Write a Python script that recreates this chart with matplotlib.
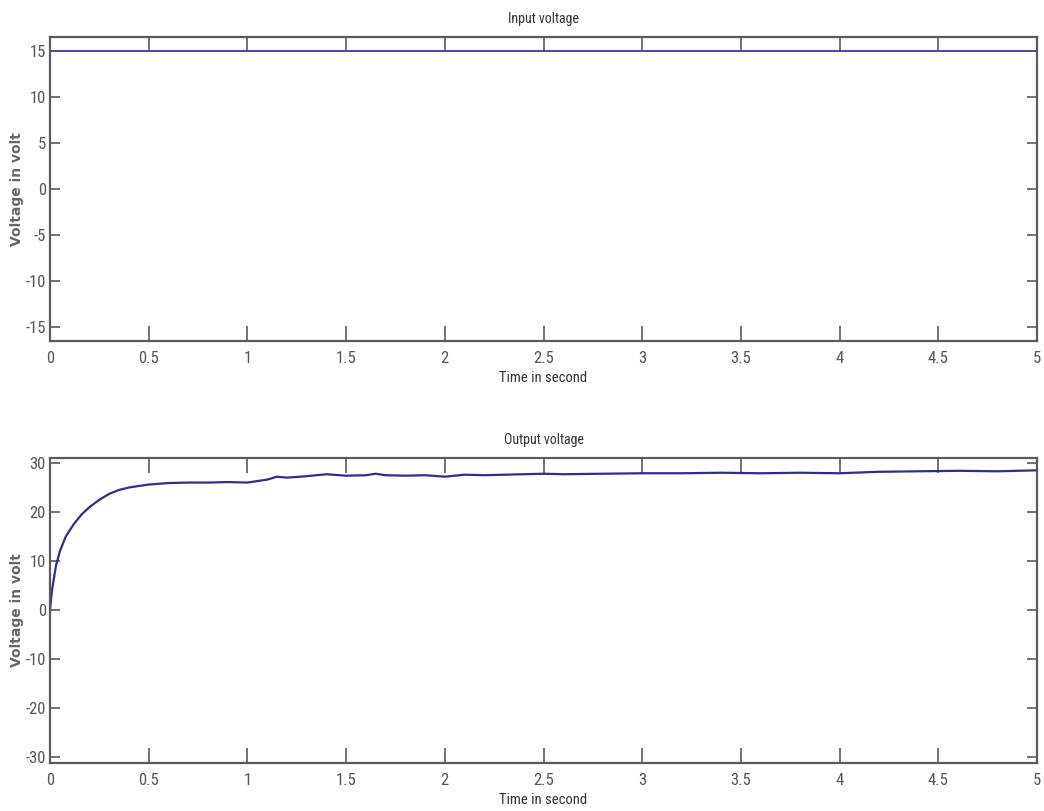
import numpy as np
import matplotlib.pyplot as plt
from matplotlib import font_manager

# input signal: constant 15 V
t_in = [0, 5]
v_in = [15, 15]

# output voltage
t_out = [0, 0.01, 0.03, 0.05, 0.08, 0.12, 0.16, 0.2, 0.25, 0.3, 0.35, 0.4, 0.45, 0.5,
         0.6, 0.7, 0.8, 0.9, 1.0, 1.05, 1.1, 1.15, 1.2, 1.3, 1.4, 1.5, 1.6, 1.65, 1.7,
         1.8, 1.9, 2.0, 2.1, 2.2, 2.3, 2.4, 2.5, 2.6, 2.8, 3.0, 3.2, 3.4, 3.6, 3.8,
         4.0, 4.2, 4.4, 4.6, 4.8, 5.0]
v_out = [0, 4, 9, 12, 15, 17.5, 19.5, 21, 22.5, 23.7, 24.5, 25, 25.3, 25.6,
         25.9, 26, 26, 26.1, 26, 26.3, 26.6, 27.2, 27, 27.3, 27.7, 27.4, 27.5, 27.8, 27.5,
         27.4, 27.5, 27.2, 27.6, 27.5, 27.6, 27.7, 27.8, 27.7, 27.8, 27.9, 27.9, 28, 27.9, 28,
         27.9, 28.2, 28.3, 28.4, 28.3, 28.5]

xticks = np.arange(0, 5.01, 0.5)
xticklabels = ['0', '0.5', '1', '1.5', '2', '2.5', '3', '3.5', '4', '4.5', '5']

# pick a narrow face if one is installed
names = {f.name for f in font_manager.fontManager.ttflist}
narrow = [n for n in ['Liberation Sans Narrow', 'Roboto Condensed', 'DejaVu Sans Condensed',
                      'Open Sans Condensed', 'Noto Sans Condensed'] if n in names] + ['DejaVu Sans']
axcol = '#5a5a5a'

fig = plt.figure(figsize=(10.44, 8.11), dpi=100)
ax1 = fig.add_axes([0.0479, 0.5795, 0.9454, 0.3748])
ax2 = fig.add_axes([0.0479, 0.0592, 0.9454, 0.376])


def style(ax, title, ylim, yticks):
    ax.set_xlim(0, 5)
    ax.set_ylim(*ylim)
    ax.set_xticks(xticks)
    ax.set_xticklabels(xticklabels, family=narrow, stretch='condensed', fontsize=12, color='#555555')
    ax.set_yticks(yticks)
    ax.set_yticklabels([str(v) for v in yticks], family=narrow, stretch='condensed',
                       fontsize=12, color='#555555')
    ax.tick_params(axis='x', direction='in', length=11, width=1.2, color=axcol,
                   top=True, pad=7)
    ax.tick_params(axis='y', direction='in', length=7, width=1.2, color=axcol,
                   right=True, pad=3)
    for s in ax.spines.values():
        s.set_color(axcol)
        s.set_linewidth(1.6)
    ax.set_title(title, family=narrow, stretch='condensed', fontsize=10, color='#333333', pad=10)
    ax.set_xlabel('Time in second', family=narrow, stretch='condensed', fontsize=10.5,
                  color='#333333', labelpad=4)
    ax.set_ylabel('Voltage in volt', fontsize=10, fontweight='bold', color='#666666', labelpad=1)


ax1.plot(t_in, v_in, color='#4848a8', lw=1.4)
style(ax1, 'Input voltage', (-16.5, 16.5), [-15, -10, -5, 0, 5, 10, 15])

ax2.plot(t_out, v_out, color='#2e2e8c', lw=1.6)
style(ax2, 'Output voltage', (-31.2, 31), [-30, -20, -10, 0, 10, 20, 30])

fig.savefig('out.png', dpi=100)
